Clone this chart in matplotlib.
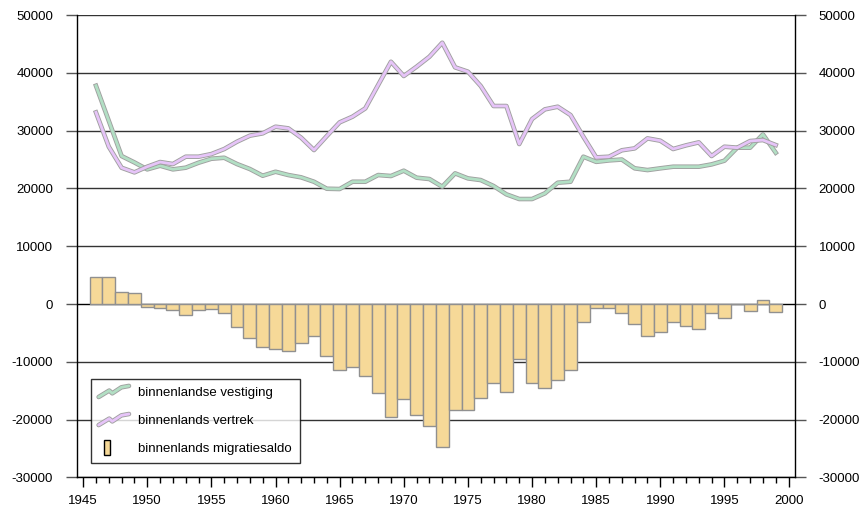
import matplotlib
matplotlib.use("Agg")
import matplotlib.pyplot as plt
import matplotlib.patheffects as pe
import numpy as np
from matplotlib.legend_handler import HandlerBase
from matplotlib.lines import Line2D
from matplotlib.patches import Rectangle
from matplotlib.ticker import MultipleLocator

plt.rcParams['font.family'] = ['Liberation Sans', 'DejaVu Sans']
plt.rcParams['axes.unicode_minus'] = False

years = list(range(1946, 2000))

vestiging = [37770, 31700, 25600, 24500, 23300, 23930, 23300, 23590, 24450, 25140,
             25310, 24220, 23360, 22200, 22890, 22320, 21920, 21160, 19950, 19900,
             21160, 21160, 22320, 22150, 23070, 21860, 21630, 20300, 22610, 21740,
             21450, 20420, 18980, 18170, 18170, 19150, 20990, 21160, 25490, 24600,
             24850, 25000, 23480, 23180, 23480, 23760, 23760, 23760, 24160, 24800,
             27050, 27050, 29350, 26180]

vertrek = [33160, 27220, 23580, 22780, 23760, 24570, 24220, 25490, 25490, 25950,
           26820, 28090, 29130, 29530, 30680, 30390, 28780, 26640, 29070, 31430,
           32410, 33850, 37890, 41920, 39450, 41060, 42790, 45210, 40950, 40200,
           37720, 34260, 34260, 27680, 32010, 33680, 34140, 32700, 28950, 25370,
           25490, 26600, 26930, 28660, 28260, 26820, 27450, 27970, 25610, 27220,
           27050, 28200, 28370, 27510]

saldo = [4620, 4750, 2080, 1950, -460, -750, -1040, -1960, -1040, -920,
         -1560, -4040, -5820, -7500, -7790, -8190, -6810, -5540, -9050, -11480,
         -10900, -12400, -15450, -19600, -16490, -19200, -21100, -24800, -18400, -18400,
         -16320, -13730, -15170, -9520, -13610, -14470, -13150, -11480, -3100, -750,
         -650, -1600, -3430, -5540, -4790, -3170, -3750, -4330, -1610, -2420,
         -50, -1210, 690, -1330]

labels = ["binnenlandse vestiging", "binnenlands vertrek", "binnenlands migratiesaldo"]
line_colors = ["#b2dfc4", "#e6c4f8"]
bar_color = "#f6d998"


def outlined(lw=2.0):
    return [pe.Stroke(linewidth=lw + 1.3, foreground="#a0a0a0"), pe.Normal()]


class ZigzagHandler(HandlerBase):
    def create_artists(self, legend, orig_handle, xdescent, ydescent,
                       width, height, fontsize, trans):
        fx = np.array([0.0, 0.35, 0.45, 0.75, 1.0])
        fy = np.array([-0.1, 0.6, 0.3, 0.95, 1.1])
        line = Line2D(fx * width - xdescent, fy * height - ydescent,
                      color=orig_handle.get_color(), lw=2.0,
                      solid_joinstyle="round", solid_capstyle="round",
                      path_effects=outlined(), transform=trans)
        return [line]


class BarHandler(HandlerBase):
    def create_artists(self, legend, orig_handle, xdescent, ydescent,
                       width, height, fontsize, trans):
        w = width * 0.2
        h = height * 1.6
        r = Rectangle((-xdescent + width * 0.18, -ydescent + height / 2 - h / 2), w, h,
                      facecolor=bar_color, edgecolor="black", lw=1.0, transform=trans)
        return [r]


fig = plt.figure(figsize=(8.6, 5.11), dpi=100)
ax = fig.add_axes([0.0892, 0.0656, 0.8352, 0.905])

ax.set_axisbelow(True)
for v in range(-30000, 50001, 10000):
    ax.axhline(v, color="#333333" if v != 0 else "black", lw=1.0, zorder=0.5)

bars = ax.bar(years, saldo, width=1.0, color=bar_color, edgecolor="#909090",
              linewidth=1.0, zorder=2)
l1, = ax.plot(years, vestiging, color=line_colors[0], lw=2.0, zorder=3,
              solid_joinstyle="round", path_effects=outlined())
l2, = ax.plot(years, vertrek, color=line_colors[1], lw=2.0, zorder=3,
              solid_joinstyle="round", path_effects=outlined())

ax.set_xlim(1944.5, 2000.5)
ax.set_ylim(-30000, 50000)
ax.xaxis.set_major_locator(MultipleLocator(5))
ax.xaxis.set_minor_locator(MultipleLocator(1))
ax.yaxis.set_major_locator(MultipleLocator(10000))

ax.tick_params(axis="y", which="both", direction="out", length=8, width=1,
               color="#555555", left=True, right=True, labelleft=True,
               labelright=True, labelsize=9.5, pad=9)
ax.tick_params(axis="x", which="major", direction="out", length=7.5, width=1,
               labelsize=9.5, pad=5)
ax.tick_params(axis="x", which="minor", direction="out", length=4, width=1)

for s in ["left", "right", "bottom"]:
    ax.spines[s].set_color("black")
    ax.spines[s].set_linewidth(1.0)
ax.spines["top"].set_visible(False)

leg = ax.legend([l1, l2, bars], labels,
                handler_map={l1: ZigzagHandler(), l2: ZigzagHandler(), bars: BarHandler()},
                loc="lower left", bbox_to_anchor=(0.0195, 0.031), borderaxespad=0,
                fontsize=9.5, frameon=True, fancybox=False, edgecolor="black",
                handlelength=2.3, handletextpad=0.7, labelspacing=1.2,
                borderpad=0.6)
leg.get_frame().set_linewidth(1.0)
leg.set_zorder(5)

fig.savefig("out.png", dpi=100)
